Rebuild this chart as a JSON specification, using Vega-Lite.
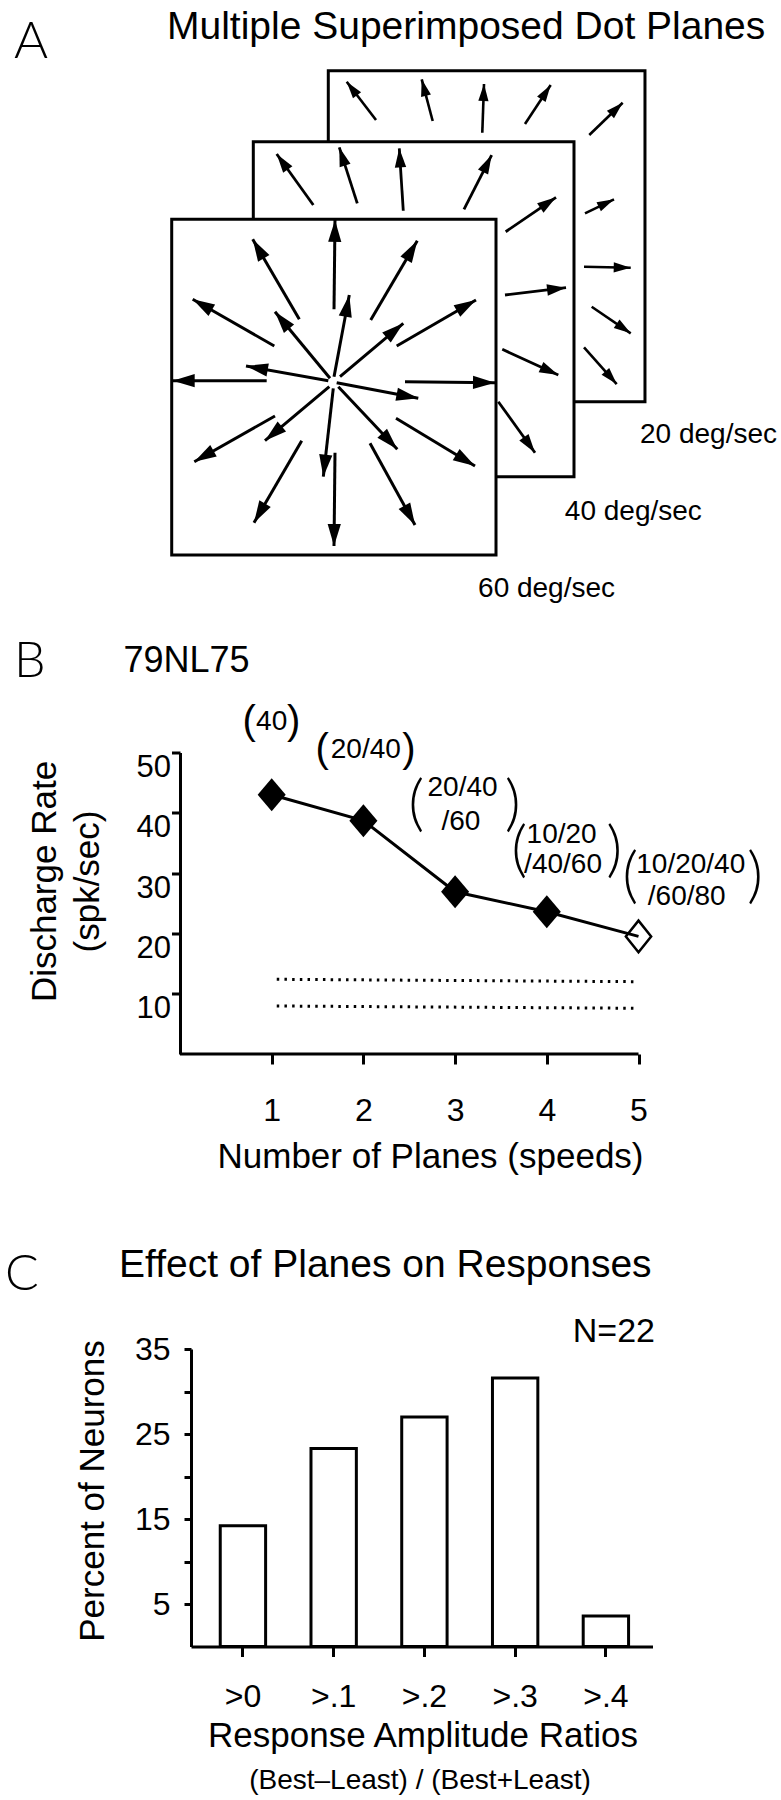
{
  "$schema": "https://vega.github.io/schema/vega-lite/v6.json",
  "padding": {"left": 5, "top": 0, "right": 0, "bottom": 0},
  "autosize": {"type": "pad"},
  "bounds": "flush",
  "spacing": 294.5,
  "config": {
    "font": "Liberation Sans",
    "view": {"stroke": null},
    "axis": {
      "grid": false, "domainColor": "#000", "tickColor": "#000", "labelColor": "#000", "titleColor": "#000",
      "domainWidth": 3, "tickWidth": 3, "labelFont": "Liberation Sans", "titleFont": "Liberation Sans",
      "titleFontWeight": "normal", "labelFlush": false, "labelOverlap": false
    },
    "text": {"color": "#000"}
  },
  "datasets": {
    "planes": [
      {"speed": 20, "left": 29.75, "right": 98.37, "bottom": 12.2, "top": 83.92},
      {"speed": 40, "left": 13.5, "right": 82.99, "bottom": -4.05, "top": 68.54},
      {"speed": 60, "left": -4.18, "right": 66.09, "bottom": -21.02, "top": 51.72}
    ],
    "arrows": [
      {"speed": 20, "tu": 40.09, "tv": 73.24, "hu": 33.74, "hv": 81.54, "dir": -37.4},
      {"speed": 20, "tu": 52.37, "tv": 73.02, "hu": 49.99, "hv": 82.06, "dir": -14.7},
      {"speed": 20, "tu": 63.12, "tv": 70.49, "hu": 63.49, "hv": 81.04, "dir": 2.0},
      {"speed": 20, "tu": 72.37, "tv": 72.37, "hu": 77.94, "hv": 80.82, "dir": 33.4},
      {"speed": 20, "tu": 86.3, "tv": 69.99, "hu": 93.54, "hv": 76.99, "dir": 46.0},
      {"speed": 20, "tu": 85.37, "tv": 53.02, "hu": 91.66, "hv": 56.05, "dir": 64.3},
      {"speed": 20, "tu": 85.16, "tv": 41.45, "hu": 95.28, "hv": 41.23, "dir": 91.2},
      {"speed": 20, "tu": 86.82, "tv": 32.78, "hu": 95.28, "hv": 27.02, "dir": 124.2},
      {"speed": 20, "tu": 85.16, "tv": 23.99, "hu": 92.24, "hv": 16.03, "dir": 138.4},
      {"speed": 40, "tu": 26.5, "tv": 54.82, "hu": 18.57, "hv": 65.87, "dir": -35.7},
      {"speed": 40, "tu": 36.03, "tv": 55.19, "hu": 32.13, "hv": 67.32, "dir": -17.8},
      {"speed": 40, "tu": 46.0, "tv": 53.58, "hu": 45.13, "hv": 67.11, "dir": -3.7},
      {"speed": 40, "tu": 59.15, "tv": 53.89, "hu": 65.15, "hv": 65.65, "dir": 27.0},
      {"speed": 40, "tu": 68.19, "tv": 49.03, "hu": 79.09, "hv": 56.49, "dir": 55.6},
      {"speed": 40, "tu": 68.04, "tv": 35.32, "hu": 81.26, "hv": 36.9, "dir": 83.2},
      {"speed": 40, "tu": 67.45, "tv": 23.55, "hu": 79.59, "hv": 17.98, "dir": 114.6},
      {"speed": 40, "tu": 66.59, "tv": 12.2, "hu": 74.54, "hv": 1.15, "dir": 144.3},
      {"speed": 60, "tu": 30.99, "tv": 32.22, "hu": 31.2, "hv": 51.6, "dir": 0.6},
      {"speed": 60, "tu": 38.94, "tv": 29.9, "hu": 49.03, "hv": 47.08, "dir": 30.4},
      {"speed": 60, "tu": 23.47, "tv": 30.05, "hu": 13.37, "hv": 47.39, "dir": -30.2},
      {"speed": 60, "tu": 18.05, "tv": 24.27, "hu": 0.37, "hv": 34.39, "dir": -60.2},
      {"speed": 60, "tu": 44.57, "tv": 24.27, "hu": 61.75, "hv": 34.24, "dir": 59.9},
      {"speed": 60, "tu": 30.99, "tv": 17.62, "hu": 34.3, "hv": 35.32, "dir": 10.6},
      {"speed": 60, "tu": 30.12, "tv": 17.27, "hu": 18.2, "hv": 31.7, "dir": -39.6},
      {"speed": 60, "tu": 32.29, "tv": 17.62, "hu": 46.0, "hv": 29.19, "dir": 49.8},
      {"speed": 60, "tu": 29.75, "tv": 16.75, "hu": 11.92, "hv": 19.93, "dir": -79.9},
      {"speed": 60, "tu": 31.57, "tv": 16.32, "hu": 49.25, "hv": 12.94, "dir": 100.8},
      {"speed": 60, "tu": 16.4, "tv": 16.75, "hu": -3.97, "hv": 16.75, "dir": -90},
      {"speed": 60, "tu": 46.37, "tv": 16.53, "hu": 65.87, "hv": 16.32, "dir": 90.6},
      {"speed": 60, "tu": 29.97, "tv": 15.45, "hu": 16.03, "hv": 3.75, "dir": -130.0},
      {"speed": 60, "tu": 30.83, "tv": 15.1, "hu": 28.67, "hv": -4.05, "dir": -173.6},
      {"speed": 60, "tu": 31.92, "tv": 15.45, "hu": 44.7, "hv": 1.89, "dir": 136.7},
      {"speed": 60, "tu": 18.2, "tv": 9.1, "hu": 0.72, "hv": -0.8, "dir": -119.5},
      {"speed": 60, "tu": 44.42, "tv": 8.6, "hu": 61.54, "hv": -1.73, "dir": 121.1},
      {"speed": 60, "tu": 23.99, "tv": 3.75, "hu": 13.65, "hv": -14.02, "dir": -149.8},
      {"speed": 60, "tu": 31.2, "tv": 1.15, "hu": 30.99, "hv": -19.07, "dir": -179.4},
      {"speed": 60, "tu": 38.79, "tv": 3.19, "hu": 48.54, "hv": -14.52, "dir": 151.2}
    ],
    "aText": [
      {"kind": "letter", "text": "A", "u": -38.35, "v": 86.78},
      {"kind": "title", "text": "Multiple Superimposed Dot Planes", "u": -5.2, "v": 90.79},
      {"kind": "speed", "text": "20 deg/sec", "u": 97.29, "v": 3.25},
      {"kind": "speed", "text": "40 deg/sec", "u": 81.0, "v": -13.43},
      {"kind": "speed", "text": "60 deg/sec", "u": 62.2, "v": -30.23}
    ],
    "rates": [
      {"n": 1, "rate": 43.0},
      {"n": 2, "rate": 38.7},
      {"n": 3, "rate": 26.9},
      {"n": 4, "rate": 23.6},
      {"n": 5, "rate": 19.5}
    ],
    "reference": [
      {"ref": "upper", "n": 1.055, "rate": 12.39},
      {"ref": "upper", "n": 5, "rate": 11.99},
      {"ref": "lower", "n": 1.055, "rate": 7.96},
      {"ref": "lower", "n": 5, "rate": 7.58}
    ],
    "bText": [
      {"kind": "letter", "text": "B", "n": -1.81, "rate": 62.52},
      {"kind": "cell", "text": "79NL75", "n": -0.616, "rate": 63.35},
      {"kind": "speeds", "text": "40", "n": 1.0, "rate": 53.73},
      {"kind": "speeds", "text": "20/40", "n": 2.026, "rate": 49.04},
      {"kind": "speeds", "text": "20/40", "n": 3.081, "rate": 42.79},
      {"kind": "speeds", "text": "/60", "n": 3.064, "rate": 37.15},
      {"kind": "speeds", "text": "10/20", "n": 4.162, "rate": 34.94},
      {"kind": "speeds", "text": "/40/60", "n": 4.177, "rate": 29.97},
      {"kind": "speeds", "text": "10/20/40", "n": 5.57, "rate": 29.97},
      {"kind": "speeds", "text": "/60/80", "n": 5.526, "rate": 24.71},
      {"kind": "paren", "text": "(", "n": 0.755, "rate": 53.15},
      {"kind": "paren", "text": ")", "n": 1.24, "rate": 53.15},
      {"kind": "paren", "text": "(", "n": 1.55, "rate": 48.42},
      {"kind": "paren", "text": ")", "n": 2.495, "rate": 48.42},
      {"kind": "bigparen", "text": "(", "n": 2.575, "rate": 38.18},
      {"kind": "bigparen", "text": ")", "n": 3.63, "rate": 38.18},
      {"kind": "bigparen", "text": "(", "n": 3.7, "rate": 30.58},
      {"kind": "bigparen", "text": ")", "n": 4.735, "rate": 30.58},
      {"kind": "bigparen", "text": "(", "n": 4.91, "rate": 26.2},
      {"kind": "bigparen", "text": ")", "n": 6.27, "rate": 26.2}
    ],
    "neurons": [
      {"ratio": ">0", "percent": 14.2},
      {"ratio": ">.1", "percent": 23.3},
      {"ratio": ">.2", "percent": 27.0},
      {"ratio": ">.3", "percent": 31.6},
      {"ratio": ">.4", "percent": 3.6}
    ],
    "cText": [
      {"kind": "letter", "text": "C", "px": -0.403, "percent": 42.0},
      {"kind": "title", "text": "Effect of Planes on Responses", "px": -0.156, "percent": 43.47},
      {"kind": "count", "text": "N=22", "px": 1.0054, "percent": 35.82},
      {"kind": "note", "text": "(Best–Least) / (Best+Least)", "px": 0.4962, "percent": -16.71}
    ]
  },
  "vconcat": [
    {
      "width": 461.5,
      "height": 458,
      "layer": [
        {
          "data": {"name": "planes"},
          "transform": [{"filter": "datum.speed == 20"}],
          "mark": {"type": "rect", "fill": "white", "stroke": "black", "strokeWidth": 3},
          "encoding": {
            "x": {"field": "left", "type": "quantitative", "scale": {"domain": [0, 100], "nice": false, "zero": false}, "axis": null},
            "x2": {"field": "right"},
            "y": {"field": "bottom", "type": "quantitative", "scale": {"domain": [0, 99.25], "nice": false, "zero": false}, "axis": null},
            "y2": {"field": "top"}
          }
        },
        {
          "data": {"name": "arrows"},
          "transform": [{"filter": "datum.speed == 20"}],
          "mark": {"type": "rule", "color": "black", "strokeWidth": 2.6},
          "encoding": {
            "x": {"field": "tu", "type": "quantitative", "scale": {"domain": [0, 100], "nice": false, "zero": false}, "axis": null},
            "x2": {"field": "hu"},
            "y": {"field": "tv", "type": "quantitative", "scale": {"domain": [0, 99.25], "nice": false, "zero": false}, "axis": null},
            "y2": {"field": "hv"}
          }
        },
        {
          "data": {"name": "arrows"},
          "transform": [{"filter": "datum.speed == 20"}],
          "mark": {"type": "point", "shape": "M0,0L0.3,1L-0.3,1Z", "filled": true, "color": "black", "opacity": 1, "size": 1156},
          "encoding": {
            "x": {"field": "hu", "type": "quantitative", "scale": {"domain": [0, 100], "nice": false, "zero": false}, "axis": null},
            "y": {"field": "hv", "type": "quantitative", "scale": {"domain": [0, 99.25], "nice": false, "zero": false}, "axis": null},
            "angle": {"field": "dir", "type": "quantitative", "scale": null}
          }
        },
        {
          "data": {"name": "planes"},
          "transform": [{"filter": "datum.speed == 40"}],
          "mark": {"type": "rect", "fill": "white", "stroke": "black", "strokeWidth": 3},
          "encoding": {
            "x": {"field": "left", "type": "quantitative", "scale": {"domain": [0, 100], "nice": false, "zero": false}, "axis": null},
            "x2": {"field": "right"},
            "y": {"field": "bottom", "type": "quantitative", "scale": {"domain": [0, 99.25], "nice": false, "zero": false}, "axis": null},
            "y2": {"field": "top"}
          }
        },
        {
          "data": {"name": "arrows"},
          "transform": [{"filter": "datum.speed == 40"}],
          "mark": {"type": "rule", "color": "black", "strokeWidth": 2.8},
          "encoding": {
            "x": {"field": "tu", "type": "quantitative", "scale": {"domain": [0, 100], "nice": false, "zero": false}, "axis": null},
            "x2": {"field": "hu"},
            "y": {"field": "tv", "type": "quantitative", "scale": {"domain": [0, 99.25], "nice": false, "zero": false}, "axis": null},
            "y2": {"field": "hv"}
          }
        },
        {
          "data": {"name": "arrows"},
          "transform": [{"filter": "datum.speed == 40"}],
          "mark": {"type": "point", "shape": "M0,0L0.3,1L-0.3,1Z", "filled": true, "color": "black", "opacity": 1, "size": 1444},
          "encoding": {
            "x": {"field": "hu", "type": "quantitative", "scale": {"domain": [0, 100], "nice": false, "zero": false}, "axis": null},
            "y": {"field": "hv", "type": "quantitative", "scale": {"domain": [0, 99.25], "nice": false, "zero": false}, "axis": null},
            "angle": {"field": "dir", "type": "quantitative", "scale": null}
          }
        },
        {
          "data": {"name": "planes"},
          "transform": [{"filter": "datum.speed == 60"}],
          "mark": {"type": "rect", "fill": "white", "stroke": "black", "strokeWidth": 3},
          "encoding": {
            "x": {"field": "left", "type": "quantitative", "scale": {"domain": [0, 100], "nice": false, "zero": false}, "axis": null},
            "x2": {"field": "right"},
            "y": {"field": "bottom", "type": "quantitative", "scale": {"domain": [0, 99.25], "nice": false, "zero": false}, "axis": null},
            "y2": {"field": "top"}
          }
        },
        {
          "data": {"name": "arrows"},
          "transform": [{"filter": "datum.speed == 60"}],
          "mark": {"type": "rule", "color": "black", "strokeWidth": 3},
          "encoding": {
            "x": {"field": "tu", "type": "quantitative", "scale": {"domain": [0, 100], "nice": false, "zero": false}, "axis": null},
            "x2": {"field": "hu"},
            "y": {"field": "tv", "type": "quantitative", "scale": {"domain": [0, 99.25], "nice": false, "zero": false}, "axis": null},
            "y2": {"field": "hv"}
          }
        },
        {
          "data": {"name": "arrows"},
          "transform": [{"filter": "datum.speed == 60"}],
          "mark": {"type": "point", "shape": "M0,0L0.3,1L-0.3,1Z", "filled": true, "color": "black", "opacity": 1, "size": 1936},
          "encoding": {
            "x": {"field": "hu", "type": "quantitative", "scale": {"domain": [0, 100], "nice": false, "zero": false}, "axis": null},
            "y": {"field": "hv", "type": "quantitative", "scale": {"domain": [0, 99.25], "nice": false, "zero": false}, "axis": null},
            "angle": {"field": "dir", "type": "quantitative", "scale": null}
          }
        },
        {
          "data": {"name": "aText"},
          "transform": [{"filter": "datum.kind == 'letter'"}],
          "mark": {"type": "text", "font": "Lato", "fontWeight": 300, "fontSize": 52, "align": "left", "baseline": "alphabetic"},
          "encoding": {
            "x": {"field": "u", "type": "quantitative", "scale": {"domain": [0, 100], "nice": false, "zero": false}, "axis": null},
            "y": {"field": "v", "type": "quantitative", "scale": {"domain": [0, 99.25], "nice": false, "zero": false}, "axis": null},
            "text": {"field": "text"}
          }
        },
        {
          "data": {"name": "aText"},
          "transform": [{"filter": "datum.kind == 'title'"}],
          "mark": {"type": "text", "fontSize": 39, "align": "left", "baseline": "alphabetic"},
          "encoding": {
            "x": {"field": "u", "type": "quantitative", "scale": {"domain": [0, 100], "nice": false, "zero": false}, "axis": null},
            "y": {"field": "v", "type": "quantitative", "scale": {"domain": [0, 99.25], "nice": false, "zero": false}, "axis": null},
            "text": {"field": "text"}
          }
        },
        {
          "data": {"name": "aText"},
          "transform": [{"filter": "datum.kind == 'speed'"}],
          "mark": {"type": "text", "fontSize": 28, "align": "left", "baseline": "alphabetic"},
          "encoding": {
            "x": {"field": "u", "type": "quantitative", "scale": {"domain": [0, 100], "nice": false, "zero": false}, "axis": null},
            "y": {"field": "v", "type": "quantitative", "scale": {"domain": [0, 99.25], "nice": false, "zero": false}, "axis": null},
            "text": {"field": "text"}
          }
        }
      ]
    },
    {
      "width": 447.5,
      "height": 301.5,
      "encoding": {
        "x": {
          "field": "n", "type": "quantitative",
          "scale": {"domain": [0.12, 5], "nice": false, "zero": false},
          "axis": {
            "values": [1, 2, 3, 4, 5], "domain": false, "tickSize": 10, "labelFontSize": 32,
            "labelPadding": 56, "labelBaseline": "alphabetic", "format": "d",
            "title": "Number of Planes (speeds)", "titleFontSize": 35,
            "titleX": 239, "titleY": 113.5, "titleBaseline": "alphabetic", "titleAlign": "center"
          }
        },
        "y": {
          "field": "rate", "type": "quantitative",
          "scale": {"domain": [0, 50], "nice": false, "zero": false},
          "axis": {
            "values": [10, 20, 30, 40, 50], "offset": 11, "tickSize": 8.5, "labelFontSize": 31,
            "labelPadding": 1, "labelBaseline": "top", "format": "d",
            "title": ["Discharge Rate", "(spk/sec)"], "titleFontSize": 35, "titleLineHeight": 43,
            "titleAngle": -90, "titleX": -125, "titleY": 128.5, "titleBaseline": "alphabetic", "titleAlign": "center"
          }
        }
      },
      "layer": [
        {
          "data": {"values": [{"n": 0, "n_end": 5, "rate": 0}]},
          "mark": {"type": "rule", "color": "black", "strokeWidth": 3},
          "encoding": {"x2": {"field": "n_end"}}
        },
        {
          "data": {"name": "reference"},
          "mark": {"type": "line", "color": "black", "strokeWidth": 3, "strokeDash": [2.5, 5.2]},
          "encoding": {"detail": {"field": "ref"}}
        },
        {
          "data": {"name": "rates"},
          "mark": {"type": "line", "color": "black", "strokeWidth": 3},
          "encoding": {}
        },
        {
          "data": {"name": "rates"},
          "transform": [{"filter": "datum.n < 5"}],
          "mark": {"type": "point", "shape": "M0,-1L0.85,0L0,1L-0.85,0Z", "filled": true, "color": "black", "opacity": 1, "size": 1089},
          "encoding": {}
        },
        {
          "data": {"name": "rates"},
          "transform": [{"filter": "datum.n == 5"}],
          "mark": {"type": "point", "shape": "M0,-1L0.8,0L0,1L-0.8,0Z", "filled": false, "color": "black", "opacity": 1, "strokeWidth": 2.5, "size": 1000},
          "encoding": {}
        },
        {
          "data": {"name": "bText"},
          "transform": [{"filter": "datum.kind == 'letter'"}],
          "mark": {"type": "text", "font": "Lato", "fontWeight": 300, "fontSize": 50, "align": "left", "baseline": "alphabetic"},
          "encoding": {"text": {"field": "text"}}
        },
        {
          "data": {"name": "bText"},
          "transform": [{"filter": "datum.kind == 'cell'"}],
          "mark": {"type": "text", "fontSize": 36, "align": "left", "baseline": "alphabetic"},
          "encoding": {"text": {"field": "text"}}
        },
        {
          "data": {"name": "bText"},
          "transform": [{"filter": "datum.kind == 'speeds'"}],
          "mark": {"type": "text", "fontSize": 28, "align": "center", "baseline": "alphabetic"},
          "encoding": {"text": {"field": "text"}}
        },
        {
          "data": {"name": "bText"},
          "transform": [{"filter": "datum.kind == 'paren'"}],
          "mark": {"type": "text", "fontSize": 40, "align": "center", "baseline": "alphabetic"},
          "encoding": {"text": {"field": "text"}}
        },
        {
          "data": {"name": "bText"},
          "transform": [{"filter": "datum.kind == 'bigparen'"}],
          "mark": {"type": "text", "fontSize": 62, "font": "Lato", "fontWeight": 300, "align": "center", "baseline": "alphabetic"},
          "encoding": {"text": {"field": "text"}}
        }
      ]
    },
    {
      "width": 461.5,
      "height": 297.5,
      "resolve": {"scale": {"x": "independent"}},
      "encoding": {
        "y": {
          "field": "percent", "type": "quantitative",
          "scale": {"domain": [0, 35], "nice": false, "zero": false},
          "axis": {
            "values": [5, 10, 15, 20, 25, 30, 35], "labelExpr": "datum.value % 10 == 5 ? datum.label : ''",
            "tickSize": 7, "labelFontSize": 32, "labelPadding": 14,
            "title": "Percent of Neurons", "titleFontSize": 35, "titleAngle": -90,
            "titleX": -88, "titleY": 141.5, "titleBaseline": "alphabetic", "titleAlign": "center"
          }
        }
      },
      "layer": [
        {
          "data": {"name": "neurons"},
          "mark": {"type": "bar", "fill": "white", "stroke": "black", "strokeWidth": 3},
          "encoding": {
            "x": {
              "field": "ratio", "type": "nominal", "sort": null,
              "scale": {"paddingInner": 0.5, "paddingOuter": 0.293, "align": 0.55},
              "axis": {
                "tickSize": 10, "labelFontSize": 32, "labelPadding": 50, "labelBaseline": "alphabetic", "labelAngle": 0,
                "domain": true, "title": "Response Amplitude Ratios", "titleFontSize": 35,
                "titleX": 231.5, "titleY": 100, "titleBaseline": "alphabetic", "titleAlign": "center"
              }
            }
          }
        },
        {
          "data": {"name": "cText"},
          "transform": [{"filter": "datum.kind == 'letter'"}],
          "mark": {"type": "text", "font": "Lato", "fontWeight": 300, "fontSize": 50, "align": "left", "baseline": "alphabetic"},
          "encoding": {
            "x": {"field": "px", "type": "quantitative", "scale": {"domain": [0, 1], "nice": false, "zero": false}, "axis": null},
            "text": {"field": "text"}
          }
        },
        {
          "data": {"name": "cText"},
          "transform": [{"filter": "datum.kind == 'title'"}],
          "mark": {"type": "text", "fontSize": 39, "align": "left", "baseline": "alphabetic"},
          "encoding": {
            "x": {"field": "px", "type": "quantitative", "scale": {"domain": [0, 1], "nice": false, "zero": false}, "axis": null},
            "text": {"field": "text"}
          }
        },
        {
          "data": {"name": "cText"},
          "transform": [{"filter": "datum.kind == 'count'"}],
          "mark": {"type": "text", "fontSize": 34, "align": "right", "baseline": "alphabetic"},
          "encoding": {
            "x": {"field": "px", "type": "quantitative", "scale": {"domain": [0, 1], "nice": false, "zero": false}, "axis": null},
            "text": {"field": "text"}
          }
        },
        {
          "data": {"name": "cText"},
          "transform": [{"filter": "datum.kind == 'note'"}],
          "mark": {"type": "text", "fontSize": 28, "align": "center", "baseline": "alphabetic"},
          "encoding": {
            "x": {"field": "px", "type": "quantitative", "scale": {"domain": [0, 1], "nice": false, "zero": false}, "axis": null},
            "text": {"field": "text"}
          }
        }
      ]
    }
  ]
}
